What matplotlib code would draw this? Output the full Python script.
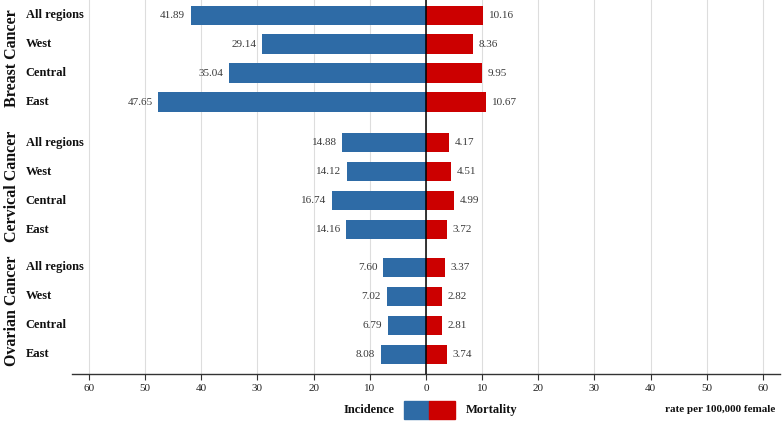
import matplotlib
matplotlib.use("Agg")
import matplotlib.pyplot as plt
from matplotlib.patches import Rectangle
import matplotlib.transforms as mtransforms

plt.rcParams['font.family'] = ['Liberation Serif', 'DejaVu Serif']

groups = ["Breast Cancer", "Cervical Cancer", "Ovarian Cancer"]
regions = ["All regions", "West", "Central", "East"]
incidence = [[41.89, 29.14, 35.04, 47.65],
             [14.88, 14.12, 16.74, 14.16],
             [7.60, 7.02, 6.79, 8.08]]
mortality = [[10.16, 8.36, 9.95, 10.67],
             [4.17, 4.51, 4.99, 3.72],
             [3.37, 2.82, 2.81, 3.74]]
xticks = [-60, -50, -40, -30, -20, -10, 0, 10, 20, 30, 40, 50, 60]

BLUE = "#2E6BA6"
RED = "#CC0000"
group_offsets = [0.0, 4.4, 8.7]

fig = plt.figure(figsize=(7.83, 4.21), dpi=100)
ax = fig.add_axes([0.092, 0.112, 0.904, 0.888])

for gi, g in enumerate(groups):
    ys = [group_offsets[gi] + i for i in range(4)]
    for y, inc, mor in zip(ys, incidence[gi], mortality[gi]):
        ax.barh(y, -inc, height=0.66, color=BLUE, zorder=3)
        ax.barh(y, mor, height=0.66, color=RED, zorder=3)
        ax.text(-inc - 1.0, y, f"{inc:.2f}", ha="right", va="center",
                fontsize=8, color="#3a3a3a")
        ax.text(mor + 1.0, y, f"{mor:.2f}", ha="left", va="center",
                fontsize=8, color="#3a3a3a")
    trans = mtransforms.blended_transform_factory(fig.transFigure, ax.transData)
    for y, r in zip(ys, regions):
        ax.text(0.033, y, r, transform=trans, ha="left", va="center",
                fontsize=9, fontweight="bold", color="#111111")
    ax.text(0.015, (ys[0] + ys[-1]) / 2, g, transform=trans, rotation=90,
            ha="center", va="center", fontsize=11.5, fontweight="bold",
            color="#111111")

ax.set_ylim(12.38, -0.52)
ax.set_xlim(-63, 63)
ax.set_xticks(xticks)
ax.set_xticklabels([str(abs(t)) for t in xticks], fontsize=8, color="#222222")
ax.set_yticks([])
ax.grid(axis="x", color="#dddddd", linewidth=0.8, zorder=0)
ax.axvline(0, color="black", linewidth=1.1, zorder=4)
for s in ["left", "right", "top"]:
    ax.spines[s].set_visible(False)
ax.spines["bottom"].set_color("#333333")
ax.spines["bottom"].set_linewidth(1.0)
ax.tick_params(axis="x", length=4, width=0.8, color="#333333", pad=3)

# legend
W, H = 783, 421
fig.patches.append(Rectangle((404 / W, 1 - 419 / H), 25 / W, 18 / H,
                             transform=fig.transFigure, color=BLUE))
fig.patches.append(Rectangle((429 / W, 1 - 419 / H), 26 / W, 18 / H,
                             transform=fig.transFigure, color=RED))
fig.text(395 / W, 1 - 410 / H, "Incidence", ha="right", va="center",
         fontsize=9, fontweight="bold", color="#111111")
fig.text(466 / W, 1 - 410 / H, "Mortality", ha="left", va="center",
         fontsize=9, fontweight="bold", color="#111111")
fig.text(775 / W, 1 - 410 / H, "rate per 100,000 female", ha="right",
         va="center", fontsize=8, fontweight="bold", color="#111111")

fig.savefig("out.png", dpi=100)
